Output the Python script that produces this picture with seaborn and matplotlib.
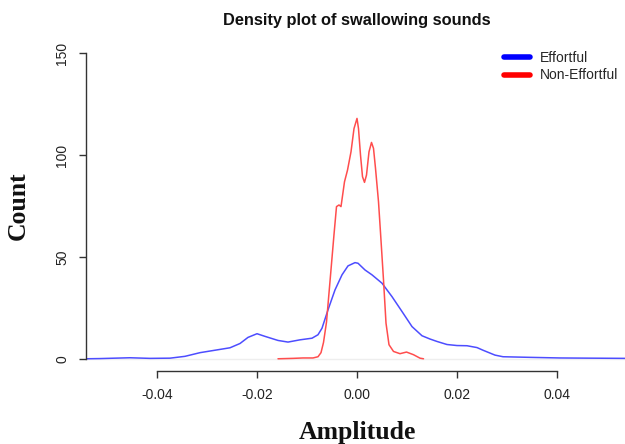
import numpy as np
import pandas as pd
import seaborn as sns
import matplotlib
matplotlib.use('Agg')
import matplotlib.pyplot as plt
from matplotlib.lines import Line2D

# density curves
effortful_x = [-0.0542, -0.0514, -0.0454, -0.0414, -0.0374, -0.0344, -0.0314, -0.0284,
               -0.0254, -0.0234, -0.0218, -0.0200, -0.0184, -0.0158, -0.0138, -0.0114,
               -0.0090, -0.0078, -0.0070, -0.0058, -0.0044, -0.0030, -0.0018, -0.0004,
               0.0002, 0.0016, 0.0030, 0.0050, 0.0070, 0.0090, 0.0110, 0.0130,
               0.0146, 0.0160, 0.0180, 0.0200, 0.0220, 0.0240, 0.0252, 0.0266,
               0.0276, 0.0292, 0.0346, 0.0406, 0.0466, 0.0536]
effortful_y = [0.0, 0.1, 0.5, 0.2, 0.3, 1.2, 3.0, 4.2,
               5.4, 7.5, 10.5, 12.3, 11.0, 9.0, 8.2, 9.3,
               10.1, 11.8, 15.0, 24.0, 33.8, 41.2, 45.6, 47.2,
               46.9, 43.6, 41.2, 37.1, 30.5, 23.2, 15.8, 11.3,
               9.7, 8.5, 7.0, 6.5, 6.4, 5.5, 4.2, 2.8,
               1.8, 1.0, 0.7, 0.4, 0.3, 0.2]

non_effortful_x = [-0.0158, -0.0128, -0.0108, -0.0088, -0.0078, -0.0072, -0.0067, -0.0061,
                   -0.0054, -0.0046, -0.0041, -0.0036, -0.0032, -0.0025, -0.0019, -0.0012,
                   -0.0006, 0.0000, 0.0003, 0.0007, 0.0011, 0.0015, 0.0019, 0.0024,
                   0.0029, 0.0033, 0.0037, 0.0043, 0.0047, 0.0053, 0.0058, 0.0064,
                   0.0073, 0.0086, 0.0099, 0.0113, 0.0126, 0.0133]
non_effortful_y = [0.0, 0.2, 0.4, 0.4, 1.0, 3.0, 8.0, 18.0,
                   38.0, 61.0, 74.7, 75.5, 74.7, 86.9, 92.6, 101.6,
                   113.0, 118.0, 113.0, 100.0, 89.4, 86.6, 90.2, 101.6,
                   106.2, 103.3, 93.5, 77.1, 62.0, 38.7, 17.5, 6.9,
                   3.6, 2.5, 3.3, 2.0, 0.3, 0.0]

x_ticks = [-0.04, -0.02, 0.00, 0.02, 0.04]
x_tick_labels = ['-0.04', '-0.02', '0.00', '0.02', '0.04']
y_ticks = [0, 50, 100, 150]

sns.set_style('white')
plt.rcParams['font.family'] = ['Liberation Sans', 'DejaVu Sans']

W, H = 625, 444
fig = plt.figure(figsize=(W / 100, H / 100), dpi=100)
ax = fig.add_axes([86 / W, 1 - 371 / H, (W - 86) / W, (371 - 41) / H])

ax.axhline(0, color='#eeeeee', lw=1, zorder=0)
sns.lineplot(x=effortful_x, y=effortful_y, color='#4d4dff', lw=1.1, ax=ax)
sns.lineplot(x=non_effortful_x, y=non_effortful_y, color='#ff4d4d', lw=1.1, ax=ax)

ax.set_xlim(-0.0542, 0.0536)
ax.set_ylim(-6, 156)
ax.set_xticks(x_ticks)
ax.set_xticklabels(x_tick_labels)
ax.set_yticks(y_ticks)
ax.set_yticklabels([str(v) for v in y_ticks], rotation=90, va='center')

for s in ['top', 'right']:
    ax.spines[s].set_visible(False)
ax.spines['left'].set_bounds(0, 150)
ax.spines['bottom'].set_bounds(-0.04, 0.04)
for s in ['left', 'bottom']:
    ax.spines[s].set_color('#333333')
    ax.spines[s].set_linewidth(1.0)
ax.tick_params(axis='both', direction='out', length=5, width=1, color='#333333',
               labelsize=10, labelcolor='#222222', pad=7, left=True, bottom=True)
ax.set_xlabel('')
ax.set_ylabel('')

fig.text(357 / W, 1 - 21 / H, 'Density plot of swallowing sounds', ha='center', va='center',
         fontsize=11.8, fontweight='bold', color='#111111')
fig.text(357 / W, 1 - 432 / H, 'Amplitude', ha='center', va='center',
         fontsize=18.5, fontweight='bold', family='Liberation Serif', color='#111111')
fig.text(18 / W, 1 - 206 / H, 'Count', ha='center', va='center', rotation=90,
         fontsize=18.5, fontweight='bold', family='Liberation Serif', color='#111111')

handles = [Line2D([0], [0], color='blue', lw=4, solid_capstyle='round'),
           Line2D([0], [0], color='red', lw=4, solid_capstyle='round')]
fig.legend(handles, ['Effortful', 'Non-Effortful'], loc='upper left',
           bbox_to_anchor=(504 / W, 1 - 51 / H), frameon=False, fontsize=10,
           handlelength=1.9, handletextpad=0.7, labelspacing=0.25,
           borderpad=0, borderaxespad=0)

fig.savefig('out.png', dpi=100)
